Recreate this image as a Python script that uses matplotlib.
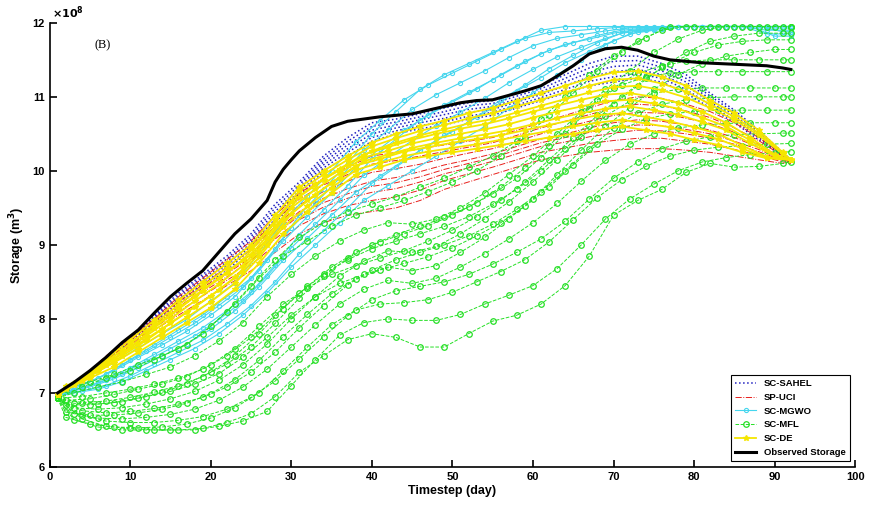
import matplotlib.pyplot as plt

# three staggered sampling grids (days) used by the ensemble members
grid_a = [1, 4, 7, 10, 13, 16, 19, 22, 25, 28, 31, 34, 37, 40, 43, 46,
          49, 52, 55, 58, 61, 64, 67, 70, 73, 76, 79, 82, 85, 88, 91, 92]
grid_b = [1, 2, 5, 8, 11, 14, 17, 20, 23, 26, 29, 32, 35, 38, 41, 44,
          47, 50, 53, 56, 59, 62, 65, 68, 71, 74, 77, 80, 83, 86, 89, 92]
grid_c = [1, 3, 6, 9, 12, 15, 18, 21, 24, 27, 30, 33, 36, 39, 42, 45,
          48, 51, 54, 57, 60, 63, 66, 69, 72, 75, 78, 81, 84, 87, 90, 92]

# observed storage (x 1e8 m3)
obs_days = [1, 3, 5, 7, 9, 11, 13, 15, 17, 19, 21, 23, 25, 27, 28, 29, 30, 31,
            33, 35, 37, 39, 41, 43, 45, 47, 49, 51, 53, 55, 57, 59, 61, 63, 65,
            67, 69, 71, 73, 75, 77, 79, 81, 83, 85, 87, 89, 91, 92]
obs = [7.00, 7.14, 7.30, 7.48, 7.68, 7.85, 8.08, 8.30, 8.48, 8.65, 8.90, 9.15,
       9.35, 9.60, 9.85, 10.02, 10.15, 10.27, 10.45, 10.60, 10.67, 10.70, 10.73,
       10.75, 10.77, 10.82, 10.87, 10.92, 10.95, 10.96, 11.02, 11.08, 11.15,
       11.28, 11.42, 11.58, 11.65, 11.67, 11.63, 11.55, 11.50, 11.48, 11.46,
       11.45, 11.44, 11.43, 11.42, 11.39, 11.37]

sahel = [
    [6.98, 7.2, 7.48, 7.76, 8.05, 8.35, 8.6, 8.85, 9.15, 9.55, 9.85, 10.2, 10.45, 10.65, 10.7, 10.77, 10.85, 10.92, 10.95, 11.05, 11.15, 11.3, 11.45, 11.55, 11.55, 11.45, 11.3, 11.05, 10.82, 10.55, 10.25, 10.15],
    [6.98, 7.19, 7.47, 7.74, 8.03, 8.32, 8.57, 8.81, 9.11, 9.5, 9.81, 10.16, 10.4, 10.6, 10.66, 10.73, 10.8, 10.88, 10.91, 11.01, 11.11, 11.25, 11.39, 11.48, 11.49, 11.4, 11.25, 11.01, 10.79, 10.52, 10.24, 10.15],
    [6.98, 7.18, 7.46, 7.73, 8.01, 8.29, 8.54, 8.77, 9.07, 9.45, 9.77, 10.12, 10.35, 10.55, 10.62, 10.69, 10.76, 10.83, 10.87, 10.97, 11.07, 11.2, 11.33, 11.41, 11.43, 11.35, 11.2, 10.97, 10.75, 10.5, 10.23, 10.15],
    [6.98, 7.18, 7.44, 7.71, 7.99, 8.26, 8.51, 8.73, 9.03, 9.4, 9.73, 10.08, 10.3, 10.5, 10.58, 10.65, 10.71, 10.79, 10.83, 10.93, 11.03, 11.15, 11.27, 11.34, 11.37, 11.3, 11.15, 10.93, 10.72, 10.47, 10.22, 10.15],
    [6.98, 7.17, 7.43, 7.7, 7.97, 8.23, 8.48, 8.69, 8.99, 9.35, 9.69, 10.04, 10.25, 10.45, 10.54, 10.61, 10.66, 10.74, 10.79, 10.89, 10.99, 11.1, 11.21, 11.27, 11.31, 11.25, 11.1, 10.89, 10.68, 10.45, 10.21, 10.15],
    [6.98, 7.16, 7.42, 7.68, 7.95, 8.2, 8.45, 8.65, 8.95, 9.3, 9.65, 10.0, 10.2, 10.4, 10.5, 10.57, 10.62, 10.7, 10.75, 10.85, 10.95, 11.05, 11.15, 11.2, 11.25, 11.2, 11.05, 10.85, 10.65, 10.42, 10.2, 10.15],
]

uci = [
    [6.98, 7.2, 7.5, 7.75, 8.0, 8.3, 8.55, 8.8, 9.05, 9.4, 9.7, 9.9, 10.05, 10.2, 10.25, 10.3, 10.35, 10.4, 10.45, 10.55, 10.65, 10.75, 10.85, 10.95, 11.0, 10.98, 10.9, 10.8, 10.65, 10.45, 10.22, 10.15],
    [6.98, 7.19, 7.49, 7.73, 7.98, 8.26, 8.51, 8.75, 8.99, 9.33, 9.62, 9.81, 9.95, 10.09, 10.14, 10.2, 10.26, 10.32, 10.38, 10.48, 10.58, 10.67, 10.76, 10.85, 10.9, 10.88, 10.81, 10.72, 10.58, 10.41, 10.2, 10.14],
    [6.98, 7.19, 7.47, 7.71, 7.96, 8.23, 8.46, 8.7, 8.93, 9.25, 9.54, 9.72, 9.86, 9.98, 10.03, 10.09, 10.17, 10.24, 10.3, 10.4, 10.5, 10.59, 10.67, 10.75, 10.79, 10.78, 10.71, 10.64, 10.52, 10.36, 10.18, 10.14],
    [6.98, 7.18, 7.46, 7.68, 7.93, 8.19, 8.42, 8.64, 8.87, 9.18, 9.45, 9.63, 9.76, 9.86, 9.91, 9.99, 10.08, 10.15, 10.23, 10.33, 10.43, 10.5, 10.58, 10.65, 10.69, 10.67, 10.62, 10.55, 10.45, 10.32, 10.17, 10.13],
    [6.98, 7.17, 7.45, 7.67, 7.92, 8.16, 8.39, 8.61, 8.83, 9.13, 9.4, 9.57, 9.69, 9.79, 9.84, 9.92, 10.02, 10.1, 10.18, 10.28, 10.38, 10.45, 10.52, 10.58, 10.62, 10.61, 10.56, 10.5, 10.4, 10.29, 10.15, 10.12],
    [6.98, 7.17, 7.44, 7.65, 7.9, 8.14, 8.36, 8.57, 8.79, 9.08, 9.34, 9.51, 9.63, 9.71, 9.76, 9.85, 9.96, 10.04, 10.13, 10.23, 10.33, 10.39, 10.46, 10.51, 10.55, 10.54, 10.5, 10.44, 10.36, 10.26, 10.14, 10.12],
    [6.98, 7.16, 7.42, 7.63, 7.88, 8.1, 8.31, 8.52, 8.73, 9.0, 9.26, 9.42, 9.53, 9.6, 9.65, 9.74, 9.87, 9.96, 10.05, 10.15, 10.25, 10.31, 10.37, 10.41, 10.44, 10.44, 10.4, 10.36, 10.29, 10.21, 10.12, 10.11],
    [6.98, 7.15, 7.4, 7.6, 7.85, 8.05, 8.25, 8.45, 8.65, 8.9, 9.15, 9.3, 9.4, 9.45, 9.5, 9.6, 9.75, 9.85, 9.95, 10.05, 10.15, 10.2, 10.25, 10.28, 10.3, 10.3, 10.28, 10.25, 10.2, 10.15, 10.1, 10.1],
]

mgwo = [
    [6.97, 7.1, 7.25, 7.45, 7.65, 7.85, 8.05, 8.3, 8.55, 8.95, 9.4, 9.75, 10.1, 10.5, 10.8, 11.1, 11.3, 11.45, 11.6, 11.75, 11.9, 11.95, 11.95, 11.95, 11.95, 11.95, 11.95, 11.95, 11.95, 11.95, 11.95, 11.95],
    [6.97, 7.09, 7.23, 7.41, 7.61, 7.8, 7.99, 8.24, 8.49, 8.88, 9.31, 9.66, 10.0, 10.39, 10.68, 10.96, 11.16, 11.32, 11.48, 11.64, 11.79, 11.87, 11.89, 11.92, 11.94, 11.94, 11.95, 11.95, 11.95, 11.95, 11.95, 11.95],
    [6.97, 7.08, 7.2, 7.38, 7.56, 7.75, 7.94, 8.18, 8.43, 8.8, 9.23, 9.56, 9.9, 10.28, 10.55, 10.83, 11.03, 11.19, 11.35, 11.53, 11.69, 11.79, 11.84, 11.89, 11.93, 11.94, 11.95, 11.95, 11.95, 11.95, 11.93, 11.93],
    [6.97, 7.06, 7.18, 7.34, 7.52, 7.7, 7.88, 8.11, 8.36, 8.73, 9.14, 9.47, 9.8, 10.16, 10.43, 10.69, 10.89, 11.06, 11.23, 11.41, 11.58, 11.71, 11.78, 11.86, 11.91, 11.93, 11.95, 11.95, 11.95, 11.95, 11.95, 11.95],
    [6.97, 7.05, 7.15, 7.3, 7.48, 7.65, 7.83, 8.05, 8.3, 8.65, 9.05, 9.38, 9.7, 10.05, 10.3, 10.55, 10.75, 10.93, 11.1, 11.3, 11.48, 11.63, 11.73, 11.83, 11.9, 11.93, 11.95, 11.95, 11.95, 11.95, 11.9, 11.9],
    [6.97, 7.04, 7.13, 7.26, 7.43, 7.6, 7.77, 7.99, 8.24, 8.58, 8.96, 9.28, 9.6, 9.94, 10.18, 10.41, 10.61, 10.79, 10.98, 11.19, 11.37, 11.54, 11.67, 11.79, 11.89, 11.92, 11.95, 11.95, 11.95, 11.95, 11.95, 11.95],
    [6.97, 7.03, 7.1, 7.23, 7.39, 7.55, 7.71, 7.93, 8.18, 8.5, 8.88, 9.19, 9.5, 9.83, 10.05, 10.28, 10.48, 10.66, 10.85, 11.08, 11.26, 11.46, 11.61, 11.76, 11.88, 11.91, 11.95, 11.95, 11.95, 11.95, 11.88, 11.88],
    [6.97, 7.01, 7.08, 7.19, 7.34, 7.5, 7.66, 7.86, 8.11, 8.43, 8.79, 9.09, 9.4, 9.71, 9.93, 10.14, 10.34, 10.53, 10.73, 10.96, 11.16, 11.38, 11.56, 11.73, 11.86, 11.9, 11.95, 11.95, 11.95, 11.95, 11.85, 11.85],
    [6.97, 7.0, 7.05, 7.15, 7.3, 7.45, 7.6, 7.8, 8.05, 8.35, 8.7, 9.0, 9.3, 9.6, 9.8, 10.0, 10.2, 10.4, 10.6, 10.85, 11.05, 11.3, 11.5, 11.7, 11.85, 11.9, 11.95, 11.95, 11.95, 11.95, 11.82, 11.82],
]
mgwo_days = [grid_a, grid_b, grid_c, grid_a, grid_b, grid_c, grid_a, grid_b, grid_c]

mfl = [
    [6.93, 7.08, 7.2, 7.3, 7.45, 7.6, 7.8, 8.1, 8.45, 8.8, 9.1, 9.3, 9.45, 9.55, 9.65, 9.78, 9.9, 10.05, 10.2, 10.4, 10.7, 11.0, 11.3, 11.55, 11.75, 11.9, 11.95, 11.95, 11.95, 11.95, 11.95, 11.95],
    [6.93, 7.05, 7.15, 7.25, 7.38, 7.5, 7.65, 7.9, 8.2, 8.55, 8.85, 9.05, 9.25, 9.4, 9.5, 9.6, 9.72, 9.85, 10.0, 10.2, 10.45, 10.75, 11.05, 11.35, 11.6, 11.8, 11.95, 11.95, 11.95, 11.95, 11.95, 11.95],
    [6.93, 7.0, 7.08, 7.15, 7.25, 7.35, 7.5, 7.7, 7.95, 8.3, 8.6, 8.85, 9.05, 9.2, 9.3, 9.28, 9.35, 9.5, 9.7, 9.95, 10.2, 10.5, 10.8, 11.1, 11.35, 11.6, 11.78, 11.9, 11.95, 11.95, 11.95, 11.95],
    [6.93, 6.95, 7.0, 7.05, 7.12, 7.2, 7.32, 7.5, 7.75, 8.05, 8.35, 8.6, 8.8, 8.95, 9.05, 9.15, 9.25, 9.38, 9.55, 9.75, 10.0, 10.3, 10.6, 10.9, 11.15, 11.4, 11.6, 11.75, 11.82, 11.86, 11.86, 11.86],
    [6.93, 6.9, 6.92, 6.98, 7.05, 7.12, 7.22, 7.38, 7.6, 7.9, 8.2, 8.42, 8.6, 8.72, 8.82, 8.92, 9.05, 9.2, 9.38, 9.6, 9.85, 10.15, 10.45, 10.75, 11.0, 11.25, 11.45, 11.6, 11.7, 11.75, 11.77, 11.77],
    [6.93, 6.86, 6.85, 6.88, 6.95, 7.02, 7.12, 7.26, 7.48, 7.75, 8.05, 8.3, 8.48, 8.6, 8.7, 8.65, 8.72, 8.9, 9.1, 9.35, 9.62, 9.95, 10.28, 10.6, 10.85, 11.1, 11.3, 11.45, 11.55, 11.6, 11.64, 11.64],
    [6.93, 6.87, 6.89, 6.94, 7.01, 7.1, 7.22, 7.39, 7.62, 7.94, 8.28, 8.58, 8.82, 9.0, 9.14, 9.25, 9.37, 9.51, 9.69, 9.9, 10.18, 10.5, 10.84, 11.12, 11.32, 11.42, 11.48, 11.5, 11.5, 11.5, 11.5, 11.5],
    [6.93, 6.84, 6.84, 6.87, 6.93, 7.01, 7.12, 7.28, 7.5, 7.8, 8.14, 8.44, 8.7, 8.9, 9.04, 9.15, 9.26, 9.4, 9.57, 9.78, 10.04, 10.34, 10.66, 10.96, 11.16, 11.27, 11.32, 11.34, 11.34, 11.34, 11.34, 11.34],
    [6.93, 6.8, 6.78, 6.8, 6.85, 6.92, 7.02, 7.17, 7.38, 7.66, 8.0, 8.3, 8.58, 8.78, 8.92, 8.9, 8.98, 9.15, 9.35, 9.58, 9.85, 10.15, 10.46, 10.74, 10.94, 11.05, 11.1, 11.12, 11.12, 11.12, 11.12, 11.12],
    [6.93, 6.76, 6.73, 6.75, 6.79, 6.85, 6.94, 7.08, 7.28, 7.55, 7.88, 8.18, 8.46, 8.66, 8.8, 8.9, 9.0, 9.12, 9.28, 9.48, 9.72, 10.0, 10.3, 10.58, 10.78, 10.9, 10.96, 10.99, 11.0, 11.0, 11.0, 11.0],
    [6.93, 6.74, 6.7, 6.7, 6.73, 6.78, 6.86, 6.99, 7.18, 7.44, 7.76, 8.06, 8.34, 8.54, 8.66, 8.75, 8.84, 8.96, 9.12, 9.3, 9.52, 9.78, 10.08, 10.36, 10.56, 10.7, 10.77, 10.8, 10.82, 10.82, 10.82, 10.82],
    [6.93, 6.72, 6.66, 6.65, 6.67, 6.71, 6.78, 6.9, 7.08, 7.32, 7.62, 7.92, 8.2, 8.4, 8.52, 8.48, 8.55, 8.7, 8.88, 9.08, 9.3, 9.56, 9.86, 10.14, 10.36, 10.5, 10.58, 10.62, 10.64, 10.65, 10.65, 10.65],
    [6.93, 6.7, 6.62, 6.6, 6.6, 6.63, 6.68, 6.78, 6.94, 7.16, 7.46, 7.76, 8.04, 8.26, 8.38, 8.44, 8.5, 8.6, 8.74, 8.9, 9.08, 9.32, 9.62, 9.9, 10.12, 10.3, 10.4, 10.46, 10.49, 10.5, 10.51, 10.51],
    [6.93, 6.67, 6.58, 6.54, 6.53, 6.54, 6.58, 6.66, 6.8, 7.0, 7.3, 7.62, 7.92, 8.12, 8.2, 8.22, 8.26, 8.36, 8.5, 8.64, 8.8, 9.04, 9.34, 9.64, 9.88, 10.06, 10.2, 10.28, 10.32, 10.34, 10.36, 10.37],
    [6.93, 6.64, 6.54, 6.5, 6.5, 6.5, 6.5, 6.55, 6.62, 6.75, 7.1, 7.45, 7.78, 7.95, 8.0, 7.98, 7.98, 8.06, 8.2, 8.32, 8.45, 8.68, 9.0, 9.35, 9.62, 9.82, 10.0, 10.12, 10.18, 10.22, 10.24, 10.26],
    [6.93, 6.65, 6.55, 6.52, 6.5, 6.5, 6.52, 6.6, 6.72, 6.95, 7.28, 7.5, 7.72, 7.8, 7.75, 7.62, 7.62, 7.8, 7.97, 8.05, 8.2, 8.45, 8.85, 9.4, 9.6, 9.75, 9.98, 10.1, 10.05, 10.06, 10.1, 10.12],
]
mfl_days = [grid_a, grid_b, grid_c, grid_a, grid_b, grid_c, grid_a, grid_b,
            grid_c, grid_a, grid_b, grid_c, grid_a, grid_b, grid_c, grid_a]

de = [
    [6.97, 7.2, 7.45, 7.72, 7.98, 8.25, 8.5, 8.75, 9.0, 9.4, 9.78, 10.0, 10.2, 10.38, 10.5, 10.6, 10.68, 10.78, 10.85, 10.95, 11.05, 11.15, 11.25, 11.33, 11.35, 11.27, 11.15, 10.95, 10.78, 10.55, 10.25, 10.15],
    [6.97, 7.18, 7.41, 7.67, 7.93, 8.19, 8.44, 8.69, 8.95, 9.33, 9.73, 9.95, 10.15, 10.33, 10.44, 10.54, 10.62, 10.71, 10.78, 10.87, 10.96, 11.06, 11.15, 11.23, 11.25, 11.18, 11.07, 10.9, 10.73, 10.51, 10.24, 10.15],
    [6.97, 7.16, 7.38, 7.62, 7.88, 8.13, 8.38, 8.62, 8.87, 9.25, 9.65, 9.88, 10.08, 10.27, 10.38, 10.48, 10.56, 10.64, 10.7, 10.79, 10.88, 10.97, 11.06, 11.13, 11.15, 11.09, 10.99, 10.85, 10.69, 10.48, 10.23, 10.15],
    [6.97, 7.14, 7.35, 7.58, 7.83, 8.06, 8.31, 8.55, 8.8, 9.17, 9.58, 9.82, 10.03, 10.22, 10.32, 10.42, 10.5, 10.57, 10.63, 10.71, 10.8, 10.88, 10.96, 11.03, 11.05, 11.0, 10.92, 10.8, 10.65, 10.45, 10.22, 10.15],
    [6.97, 7.12, 7.32, 7.54, 7.77, 8.0, 8.24, 8.47, 8.72, 9.08, 9.5, 9.75, 9.97, 10.18, 10.27, 10.37, 10.44, 10.5, 10.56, 10.63, 10.72, 10.8, 10.87, 10.94, 10.96, 10.91, 10.84, 10.72, 10.6, 10.41, 10.21, 10.15],
    [6.97, 7.11, 7.29, 7.5, 7.71, 7.94, 8.16, 8.39, 8.64, 9.0, 9.42, 9.68, 9.91, 10.13, 10.22, 10.31, 10.38, 10.44, 10.49, 10.55, 10.63, 10.71, 10.78, 10.84, 10.87, 10.82, 10.76, 10.66, 10.55, 10.37, 10.2, 10.15],
    [6.97, 7.09, 7.26, 7.46, 7.66, 7.87, 8.09, 8.31, 8.56, 8.92, 9.33, 9.6, 9.84, 10.07, 10.16, 10.26, 10.32, 10.38, 10.43, 10.48, 10.55, 10.62, 10.69, 10.75, 10.78, 10.73, 10.67, 10.59, 10.5, 10.34, 10.19, 10.15],
    [6.97, 7.07, 7.23, 7.41, 7.6, 7.81, 8.02, 8.23, 8.48, 8.83, 9.24, 9.52, 9.77, 10.01, 10.11, 10.2, 10.26, 10.31, 10.36, 10.42, 10.48, 10.54, 10.6, 10.65, 10.69, 10.64, 10.59, 10.51, 10.43, 10.3, 10.18, 10.15],
    [6.97, 7.05, 7.2, 7.35, 7.55, 7.75, 7.95, 8.15, 8.4, 8.75, 9.15, 9.45, 9.7, 9.95, 10.05, 10.15, 10.2, 10.25, 10.3, 10.35, 10.4, 10.45, 10.5, 10.55, 10.6, 10.55, 10.5, 10.42, 10.35, 10.25, 10.17, 10.15],
]
de_days = [grid_a, grid_a, grid_a, grid_c, grid_c, grid_c, grid_b, grid_b, grid_b]

plt.rcParams['font.family'] = ['Liberation Sans', 'DejaVu Sans']
plt.rcParams['font.weight'] = 'bold'

fig = plt.figure(figsize=(8.7, 5.07), dpi=100)
ax = fig.add_axes([0.057, 0.079, 0.926, 0.876])

for i, y in enumerate(sahel):
    ax.plot(grid_a, y, color='#1f1fc0', ls=':', lw=1.1,
            label='SC-SAHEL' if i == 0 else None)
for i, y in enumerate(uci):
    ax.plot(grid_a, y, color='#e8201c', ls='-.', lw=0.7,
            label='SP-UCI' if i == 0 else None)
for i, y in enumerate(mgwo):
    ax.plot(mgwo_days[i], y, color='#45d6ee', ls='-', lw=0.8, marker='o',
            ms=3, mfc='none', mew=0.8, label='SC-MGWO' if i == 0 else None)
for i, y in enumerate(mfl):
    ax.plot(mfl_days[i], y, color='#25e025', ls='--', lw=0.7, marker='o',
            ms=4, mfc='none', mew=0.9, label='SC-MFL' if i == 0 else None)
for i, y in enumerate(de):
    ax.plot(de_days[i], y, color='#f5e600', ls='-', lw=1.3, marker='*',
            ms=4, label='SC-DE' if i == 0 else None)
ax.plot(obs_days, obs, color='black', lw=2.2, label='Observed Storage')

ax.set_xlim(0, 100)
ax.set_ylim(6, 12)
ax.set_xticks(range(0, 101, 10))
ax.set_yticks(range(6, 13))
ax.spines['top'].set_visible(False)
ax.spines['right'].set_visible(False)
for s in ['left', 'bottom']:
    ax.spines[s].set_linewidth(1.2)
ax.tick_params(direction='in', length=5, width=1.2, labelsize=8)
ax.set_xlabel('Timestep (day)', fontsize=9, fontweight='bold', labelpad=2)
ax.set_ylabel('Storage (m$^3$)', fontsize=9, fontweight='bold', labelpad=4)
ax.text(0.003, 1.004, r'$\times10^8$', transform=ax.transAxes, fontsize=8,
        ha='left', va='bottom')
ax.text(5.6, 11.69, '(B)', fontsize=9, family='Liberation Serif',
        fontweight='normal', va='center')

leg = ax.legend(loc='lower right', bbox_to_anchor=(0.993, 0.013),
                prop={'size': 6.8, 'weight': 'bold'}, handlelength=2.2,
                borderaxespad=0, labelspacing=0.5, borderpad=0.45,
                fancybox=False, edgecolor='black', framealpha=1)
leg.get_frame().set_linewidth(0.8)

fig.savefig('out.png', dpi=100)
